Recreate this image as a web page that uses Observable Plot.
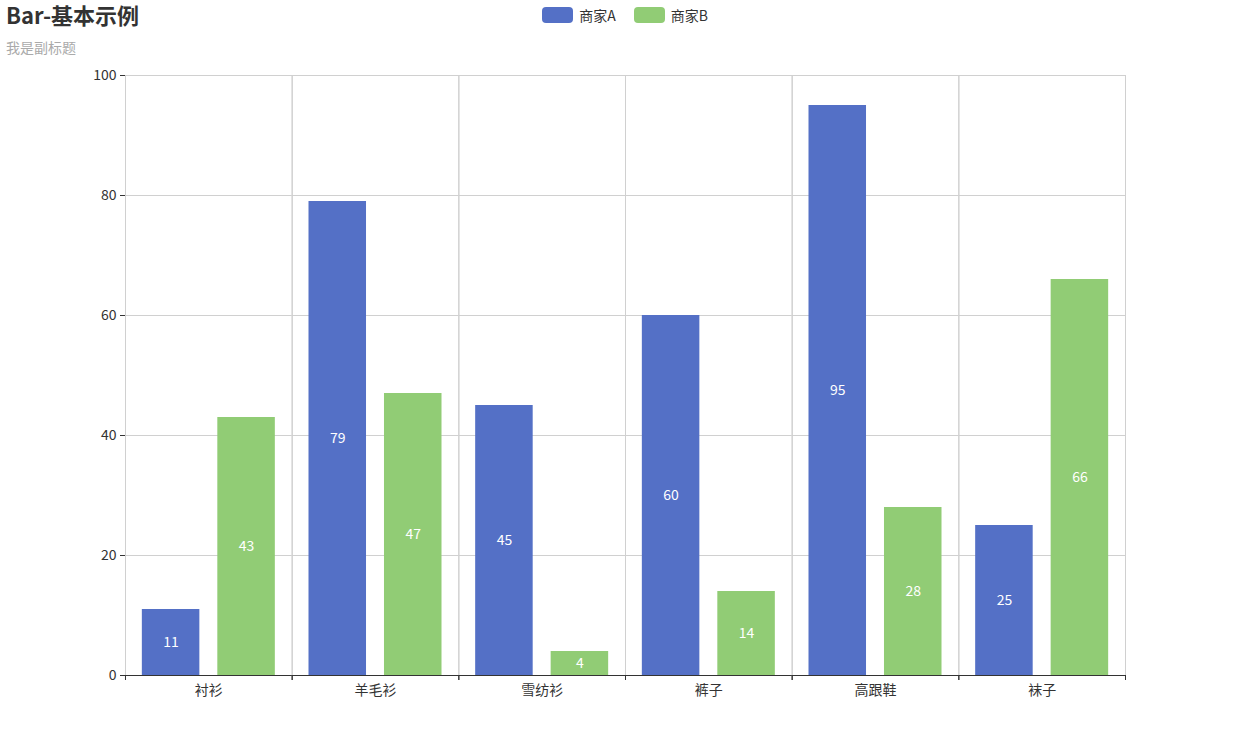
<!DOCTYPE html>
<html>
<head>
<meta charset="utf-8">
<script src="https://cdn.jsdelivr.net/npm/d3@7"></script>
<script src="https://cdn.jsdelivr.net/npm/@observablehq/plot@0.6"></script>
<style>
  html, body { margin: 0; padding: 0; background: #fff; }
  body { font-family: "Noto Sans CJK SC", "Noto Sans", sans-serif; }
  #wrap { position: relative; width: 1250px; height: 750px; }
  #title { position: absolute; left: 6px; top: -2px; font-size: 22px; font-weight: bold; color: #333; }
  #subtitle { position: absolute; left: 6px; top: 37px; font-size: 14px; color: #aaa; }
  #legend { position: absolute; left: 0; top: 5px; width: 1250px; display: flex; justify-content: center; font-size: 14px; color: #333; z-index: 2; }
  .item { display: flex; align-items: center; margin: 0 9px; }
  .sw { width: 31px; height: 16px; border-radius: 4px; margin-right: 6px; }
  #chart { position: absolute; left: 0; top: 0; }
</style>
</head>
<body>
<div id="wrap">
  <div id="chart"></div>
  <div id="title">Bar-基本示例</div>
  <div id="subtitle">我是副标题</div>
  <div id="legend"></div>
</div>
<script>
const categories = ["衬衫", "羊毛衫", "雪纺衫", "裤子", "高跟鞋", "袜子"];
const seriesNames = ["商家A", "商家B"];
const seriesA = [11, 79, 45, 60, 95, 25];
const seriesB = [43, 47, 4, 14, 28, 66];
const yTicks = [0, 20, 40, 60, 80, 100];
const colors = ["#5470c6", "#91cc75"];

const data = [];
categories.forEach((c, i) => {
  data.push({cat: c, series: seriesNames[0], value: seriesA[i]});
  data.push({cat: c, series: seriesNames[1], value: seriesB[i]});
});

const W = 1250, H = 750, mL = 125, mR = 125, mT = 75, mB = 75;
const bw = (W - mL - mR) / categories.length;

const legend = document.getElementById("legend");
seriesNames.forEach((s, i) => {
  const it = document.createElement("div");
  it.className = "item";
  it.innerHTML = `<div class="sw" style="background:${colors[i]}"></div><span>${s}</span>`;
  legend.appendChild(it);
});

const font = "Noto Sans CJK SC, Noto Sans, sans-serif";

const chart = Plot.plot({
  width: W,
  height: H,
  marginLeft: mL,
  marginRight: mR,
  marginTop: mT,
  marginBottom: mB,
  style: {fontFamily: font, fontSize: "14px", color: "#333", background: "#fff"},
  fx: {domain: categories, padding: 0, round: false, label: null},
  x: {domain: seriesNames, paddingInner: 0.238, paddingOuter: 0.223, round: false, axis: null},
  y: {domain: [0, 100], label: null},
  color: {domain: seriesNames, range: colors},
  marks: [
    Plot.gridY(yTicks, {stroke: "#d0d0d0", strokeOpacity: 1, strokeWidth: 1}),
    Plot.frame({stroke: "#d0d0d0", strokeWidth: 1}),
    Plot.barY(data, {fx: "cat", x: "series", y: "value", fill: "series"}),
    Plot.text(data, {fx: "cat", x: "series", y: d => d.value / 2, text: d => String(d.value), fill: "#fff", fontSize: 14}),
    Plot.ruleY([0], {stroke: "#333", strokeWidth: 1}),
    Plot.ruleX([categories[0]], {fx: d => d, y1: 0, y2: 100, dx: -bw / 2, stroke: "#333"}),
    Plot.axisY(yTicks, {tickSize: 5, tickPadding: 4, fontSize: 14, stroke: "#333", fill: "#333", label: null}),
    Plot.axisFx({anchor: "bottom", tickSize: 0, tickPadding: 10, fontSize: 14, fill: "#333", label: null}),
    Plot.axisFx({anchor: "bottom", tickSize: 5, text: null, dx: -bw / 2, stroke: "#333", label: null}),
    Plot.axisFx({anchor: "bottom", tickSize: 5, text: null, dx: bw / 2, stroke: "#333", label: null})
  ]
});
document.getElementById("chart").appendChild(chart);
</script>
</body>
</html>
